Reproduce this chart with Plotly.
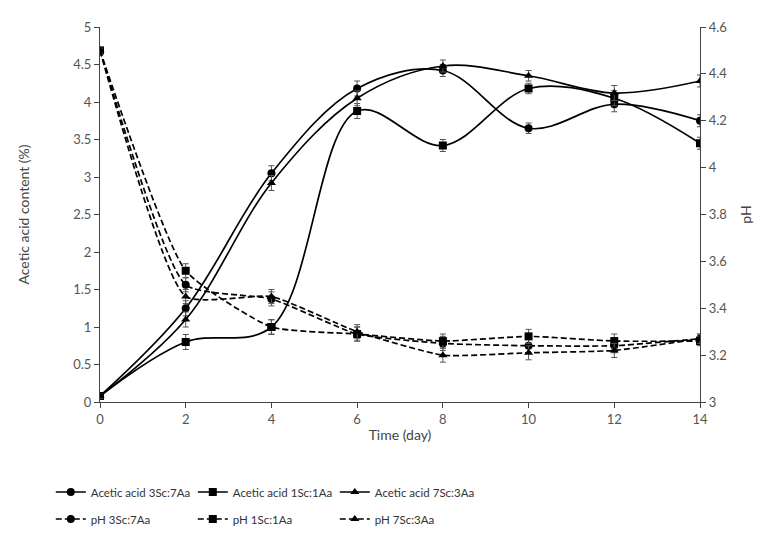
import plotly.graph_objects as go

days = [0, 2, 4, 6, 8, 10, 12, 14]

# acetic acid content (%)
aa_3sc7aa = [0.08, 1.25, 3.05, 4.18, 4.42, 3.65, 3.97, 3.75]
aa_1sc1aa = [0.08, 0.80, 1.00, 3.88, 3.42, 4.18, 4.05, 3.45]
aa_7sc3aa = [0.08, 1.10, 2.92, 4.05, 4.48, 4.35, 4.12, 4.28]
aa_err = [0.03, 0.10, 0.10, 0.10, 0.08, 0.07, 0.10, 0.08]

# pH
ph_3sc7aa = [4.50, 3.50, 3.44, 3.29, 3.25, 3.24, 3.24, 3.27]
ph_1sc1aa = [4.50, 3.56, 3.32, 3.29, 3.26, 3.28, 3.26, 3.26]
ph_7sc3aa = [4.50, 3.45, 3.45, 3.30, 3.20, 3.21, 3.22, 3.27]
ph_err = [0.01, 0.03, 0.03, 0.03, 0.03, 0.03, 0.03, 0.02]

font = "Lato, Open Sans, sans-serif"
grey = "#444444"

fig = go.Figure()

acid = [("Acetic acid 3Sc:7Aa", aa_3sc7aa, "circle"),
        ("Acetic acid 1Sc:1Aa", aa_1sc1aa, "square"),
        ("Acetic acid 7Sc:3Aa", aa_7sc3aa, "triangle-up")]
for name, vals, sym in acid:
    fig.add_trace(go.Scatter(
        x=days, y=vals, name=name, mode="lines+markers",
        line=dict(color="black", width=1.7, shape="spline", smoothing=1.0),
        marker=dict(symbol=sym, size=8, color="black"),
        error_y=dict(type="data", array=aa_err, color="#555555", thickness=1, width=3),
        legend="legend"))

ph = [("pH 3Sc:7Aa", ph_3sc7aa, "circle"),
      ("pH 1Sc:1Aa", ph_1sc1aa, "square"),
      ("pH 7Sc:3Aa", ph_7sc3aa, "triangle-up")]
for name, vals, sym in ph:
    fig.add_trace(go.Scatter(
        x=days, y=vals, name=name, mode="lines+markers", yaxis="y2",
        line=dict(color="black", width=1.7, dash="6px,3px", shape="spline", smoothing=0.5),
        marker=dict(symbol=sym, size=8, color="black"),
        error_y=dict(type="data", array=ph_err, color="#555555", thickness=1, width=3),
        legend="legend2"))

axis_common = dict(showline=True, linecolor=grey, linewidth=1.2, ticks="outside",
                   tickcolor=grey, ticklen=5, showgrid=False, zeroline=False,
                   tickfont=dict(family=font, size=13, color="#555555"))

fig.update_layout(
    width=763, height=538,
    paper_bgcolor="white", plot_bgcolor="white",
    margin=dict(l=92, r=71, t=19, b=142),
    font=dict(family=font, color="#444444"),
    xaxis=dict(range=[0, 14], tickvals=days, title=dict(text="Time (day)", font=dict(size=14), standoff=4),
               **axis_common),
    yaxis=dict(range=[0, 5], dtick=0.5, title=dict(text="Acetic acid content (%)", font=dict(size=14), standoff=40),
               **axis_common),
    yaxis2=dict(range=[3, 4.6], dtick=0.2, overlaying="y", side="right", anchor="x",
                title=dict(text="pH", font=dict(size=14), standoff=14), **axis_common),
    legend=dict(orientation="h", x=-0.082, y=-0.24, xanchor="left", yanchor="middle",
                entrywidth=97, entrywidthmode="pixels", itemwidth=30,
                font=dict(family=font, size=11.5, color="#333333"), bgcolor="rgba(0,0,0,0)"),
    legend2=dict(orientation="h", x=-0.082, y=-0.312, xanchor="left", yanchor="middle",
                 entrywidth=97, entrywidthmode="pixels", itemwidth=30,
                 font=dict(family=font, size=11.5, color="#333333"), bgcolor="rgba(0,0,0,0)"),
)

fig.write_html("out.html")
